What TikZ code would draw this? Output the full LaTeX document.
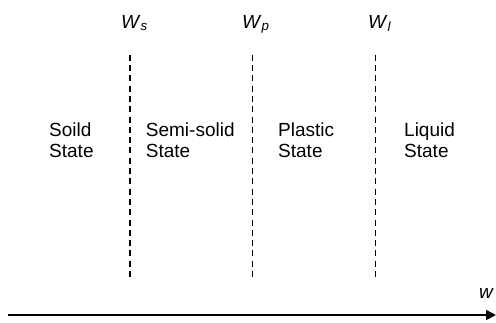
\documentclass[tikz,border=0pt]{standalone}
\usepackage{fontspec}
\setmainfont{Liberation Sans}
\usetikzlibrary{arrows.meta}
\begin{document}
\begin{tikzpicture}[x=1pt,y=-1pt,
  lbl/.style={font=\fontsize{19}{21}\selectfont, inner sep=0pt, anchor=base west, align=left},
  limit/.style={dash pattern=on 6pt off 4.3pt, line width=1.5pt},
  axis/.style={line width=1.6pt, -{Triangle[length=10pt,width=10pt]}}]
\useasboundingbox (0,0) rectangle (496,322);
% limits
\coordinate (s1) at (130,54.7);  \coordinate (s2) at (130,277);
\coordinate (p1) at (252.7,54.7); \coordinate (p2) at (252.7,277);
\coordinate (l1) at (375.3,54.7); \coordinate (l2) at (375.3,277);
\draw[limit] (s1) -- (s2);
\draw[limit] (p1) -- (p2);
\draw[limit] (l1) -- (l2);
% limit labels
\node[lbl] (ws) at (121,28) {\textit{W}\textsubscript{\textit{s}}};
\node[lbl] (wp) at (242,28) {\textit{W}\textsubscript{\textit{p}}};
\node[lbl] (wl) at (368,28) {\textit{W}\textsubscript{\textit{l}}};
% states
\node[lbl] (solid) at (49,157) {Soild\\State};
\node[lbl] (semi) at (145.7,157) {Semi-solid\\State};
\node[lbl] (plastic) at (278,157) {Plastic\\State};
\node[lbl] (liquid) at (404,157) {Liquid\\State};
% axis
\coordinate (a0) at (8,315);
\coordinate (a1) at (496,315);
\draw[axis] (a0) -- (a1);
\node[lbl] (w) at (479,298) {\textit{w}};
\end{tikzpicture}
\end{document}
